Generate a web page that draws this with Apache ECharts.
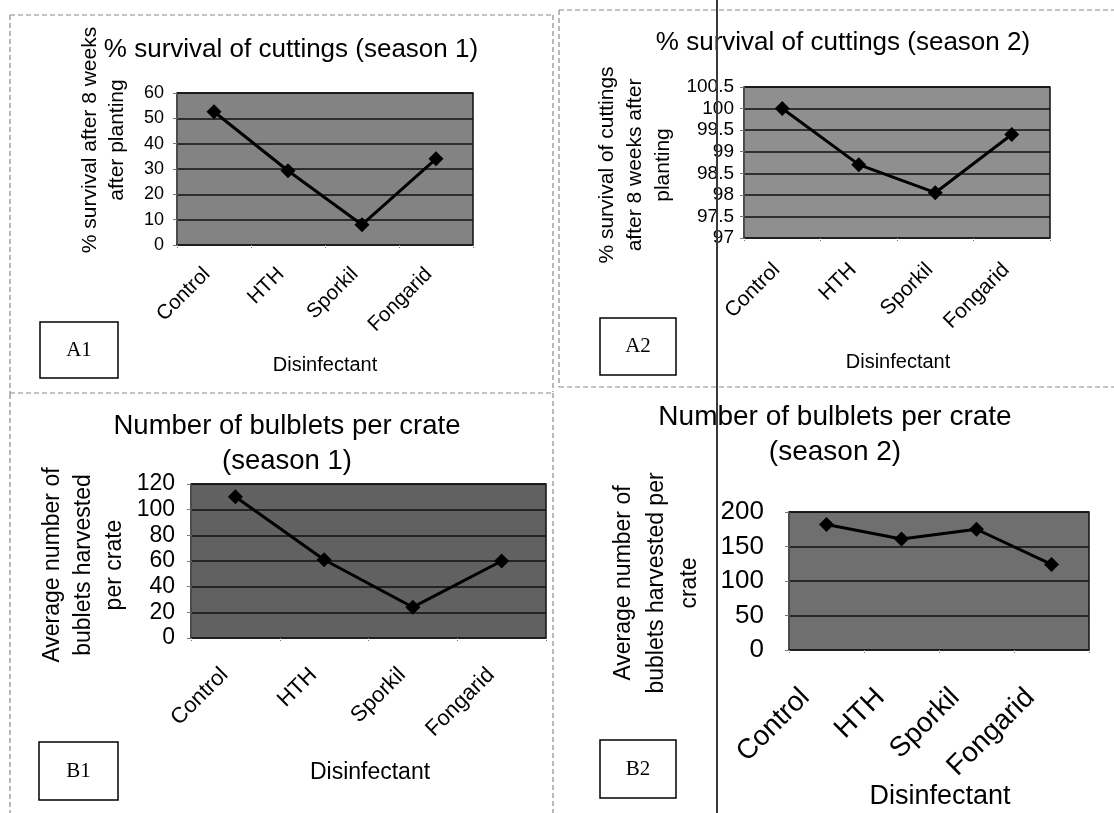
<!DOCTYPE html>
<html>
<head>
<meta charset="utf-8">
<script src="https://cdn.jsdelivr.net/npm/echarts@6/dist/echarts.min.js"></script>
<style>
html,body{margin:0;padding:0;background:#fff;}
#chart{width:1114px;height:813px;}
</style>
</head>
<body>
<div id="chart"></div>
<script>
// ---- data ----
const categories = ['Control', 'HTH', 'Sporkil', 'Fongarid'];
const survivalSeason1 = [52.6, 29.3, 8, 34];
const survivalSeason2 = [100, 98.7, 98.05, 99.4];
const bulbletsSeason1 = [110, 61, 24, 60];
const bulbletsSeason2 = [182, 161, 175, 124];

const yTicksA1 = [0, 60, 10];
const yTicksA2 = [97, 100.5, 0.5];
const yTicksB1 = [0, 120, 20];
const yTicksB2 = [0, 200, 50];

const titles = [
  '% survival of cuttings (season 1)',
  '% survival of cuttings (season 2)',
  'Number of bulblets per crate\n(season 1)',
  'Number of bulblets per crate\n(season 2)'
];
const yNames = [
  '% survival after 8 weeks\nafter planting',
  '% survival of cuttings\nafter 8 weeks after\nplanting',
  'Average number of\nbublets harvested\nper crate',
  'Average number of\nbublets harvested per\ncrate'
];
const xName = 'Disinfectant';
const panelLabels = ['A1', 'A2', 'B1', 'B2'];

// ---- layout ----
const FONT = '"Liberation Sans", Arial, sans-serif';
const SERIF = '"Liberation Serif", "Times New Roman", serif';

const panels = [
  { grid: {left: 177, top: 93, width: 296, height: 152}, ticks: yTicksA1, data: survivalSeason1,
    bg: '#838383', tickFont: 18, tickMargin: 13, catFont: 20.5, catMargin: 19, catPad: 10,
    title: {x: 291, y: 50, size: 26, lh: 30}, yName: {x: 104, y: 140, size: 21, lh: 27},
    xName: {x: 325, y: 365, size: 20}, box: {x: 40, y: 322, w: 78, h: 56} },
  { grid: {left: 744, top: 87, width: 306, height: 151}, ticks: yTicksA2, data: survivalSeason2,
    bg: '#8f8f8f', tickFont: 19, tickMargin: 10, catFont: 21, catMargin: 23, catPad: 8,
    title: {x: 843, y: 43, size: 26, lh: 30}, yName: {x: 635, y: 165, size: 21, lh: 28},
    xName: {x: 898, y: 362, size: 20}, box: {x: 600, y: 318, w: 76, h: 57} },
  { grid: {left: 191, top: 484, width: 355, height: 154}, ticks: yTicksB1, data: bulbletsSeason1,
    bg: '#616161', tickFont: 23, tickMargin: 16, catFont: 22, catMargin: 23, catPad: 15,
    title: {x: 287, y: 444, size: 27.5, lh: 35}, yName: {x: 84, y: 565, size: 23, lh: 31},
    xName: {x: 370, y: 773, size: 23}, box: {x: 39, y: 742, w: 79, h: 58} },
  { grid: {left: 789, top: 512, width: 300, height: 138}, ticks: yTicksB2, data: bulbletsSeason2,
    bg: '#6f6f6f', tickFont: 26, tickMargin: 25, catFont: 28, catMargin: 22, catPad: 30,
    title: {x: 835, y: 435, size: 28, lh: 35}, yName: {x: 657, y: 583, size: 23, lh: 33},
    xName: {x: 940, y: 797, size: 27}, box: {x: 600, y: 740, w: 76, h: 58} }
];

const grids = [], xAxes = [], yAxes = [], series = [], graphics = [];

panels.forEach((p, i) => {
  grids.push(Object.assign({show: true, backgroundColor: p.bg, borderColor: '#111', borderWidth: 1.5,
    containLabel: false}, p.grid));
  xAxes.push({
    type: 'category', gridIndex: i, data: categories, boundaryGap: true,
    axisLine: {show: true, lineStyle: {color: '#222', width: 1.5}},
    axisTick: {show: true, length: 4, lineStyle: {color: '#777', type: 'dotted'}},
    axisLabel: {rotate: 45, margin: p.catMargin, fontSize: p.catFont, fontFamily: FONT, color: '#000',
      interval: 0, padding: [0, p.catPad, 0, 0]},
    splitLine: {show: false}
  });
  yAxes.push({
    type: 'value', gridIndex: i, min: p.ticks[0], max: p.ticks[1], interval: p.ticks[2],
    axisLine: {show: true, lineStyle: {color: '#555', type: 'dotted'}},
    axisTick: {show: true, length: 4, lineStyle: {color: '#777'}},
    axisLabel: {margin: p.tickMargin, fontSize: p.tickFont, fontFamily: FONT, color: '#000'},
    splitLine: {show: true, lineStyle: {color: '#111', width: 1.5}}
  });
  series.push({
    type: 'line', xAxisIndex: i, yAxisIndex: i, data: p.data,
    symbol: 'diamond', symbolSize: 15,
    lineStyle: {color: '#000', width: 3},
    itemStyle: {color: '#000'},
    animation: false
  });
  graphics.push({
    type: 'text', x: p.title.x, y: p.title.y,
    style: {text: titles[i], fill: '#000', fontSize: p.title.size, fontFamily: FONT,
      align: 'center', verticalAlign: 'middle', lineHeight: p.title.lh}
  });
  graphics.push({
    type: 'text', x: p.yName.x, y: p.yName.y, rotation: Math.PI / 2,
    style: {text: yNames[i], fill: '#000', fontSize: p.yName.size, fontFamily: FONT,
      align: 'center', verticalAlign: 'middle', lineHeight: p.yName.lh}
  });
  graphics.push({
    type: 'text', x: p.xName.x, y: p.xName.y,
    style: {text: xName, fill: '#000', fontSize: p.xName.size, fontFamily: FONT,
      align: 'center', verticalAlign: 'middle'}
  });
  graphics.push({
    type: 'rect', shape: {x: p.box.x, y: p.box.y, width: p.box.w, height: p.box.h},
    style: {fill: '#fff', stroke: '#000', lineWidth: 1.5}
  });
  graphics.push({
    type: 'text', x: p.box.x + p.box.w / 2, y: p.box.y + p.box.h / 2,
    style: {text: panelLabels[i], fill: '#000', fontSize: 21, fontFamily: SERIF,
      align: 'center', verticalAlign: 'middle'}
  });
});

// panel frames (scanned page borders)
const frameStyle = {stroke: '#8a8a8a', lineWidth: 1.2, lineDash: [5, 3]};
[
  [10, 15, 553, 15], [10, 15, 10, 394], [553, 15, 553, 392], [10, 393, 553, 393],
  [559, 10, 1114, 10], [559, 10, 559, 387], [559, 387, 1114, 387],
  [10, 394, 10, 813], [553, 393, 553, 813]
].forEach(l => graphics.push({type: 'line', shape: {x1: l[0], y1: l[1], x2: l[2], y2: l[3]}, style: frameStyle}));
// dark vertical rule crossing the right panels
graphics.push({type: 'line', shape: {x1: 717, y1: 0, x2: 717, y2: 813}, style: {stroke: '#3a3a3a', lineWidth: 2}, z: 100});

const chart = echarts.init(document.getElementById('chart'), null, {renderer: 'canvas'});
chart.setOption({
  backgroundColor: '#fff',
  animation: false,
  grid: grids,
  xAxis: xAxes,
  yAxis: yAxes,
  series: series,
  graphic: graphics
});
</script>
</body>
</html>
